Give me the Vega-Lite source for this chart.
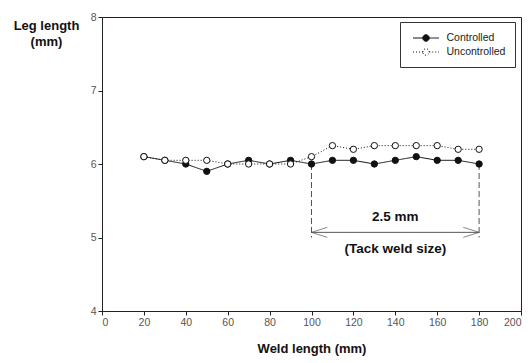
{
  "$schema": "https://vega.github.io/schema/vega-lite/v6.json",
  "width": 419,
  "height": 294,
  "autosize": "none",
  "padding": {"left": 102, "top": 17, "right": 7, "bottom": 52},
  "background": "white",
  "config": {
    "font": "Liberation Sans",
    "view": {"stroke": "#222", "strokeWidth": 1},
    "axis": {"grid": false, "domainColor": "#222", "tickColor": "#222", "labelColor": "#555", "labelFontSize": 10.5, "labelFont": "Liberation Sans", "titleFont": "Liberation Sans", "titleFontSize": 13, "titleFontWeight": "bold", "titleColor": "#111", "tickSize": 4}
  },
  "datasets": {
    "series": [
      {"weld": 20, "leg": 6.1, "series": "Controlled"},
      {"weld": 30, "leg": 6.05, "series": "Controlled"},
      {"weld": 40, "leg": 6.0, "series": "Controlled"},
      {"weld": 50, "leg": 5.9, "series": "Controlled"},
      {"weld": 60, "leg": 6.0, "series": "Controlled"},
      {"weld": 70, "leg": 6.05, "series": "Controlled"},
      {"weld": 80, "leg": 6.0, "series": "Controlled"},
      {"weld": 90, "leg": 6.05, "series": "Controlled"},
      {"weld": 100, "leg": 6.0, "series": "Controlled"},
      {"weld": 110, "leg": 6.05, "series": "Controlled"},
      {"weld": 120, "leg": 6.05, "series": "Controlled"},
      {"weld": 130, "leg": 6.0, "series": "Controlled"},
      {"weld": 140, "leg": 6.05, "series": "Controlled"},
      {"weld": 150, "leg": 6.1, "series": "Controlled"},
      {"weld": 160, "leg": 6.05, "series": "Controlled"},
      {"weld": 170, "leg": 6.05, "series": "Controlled"},
      {"weld": 180, "leg": 6.0, "series": "Controlled"},
      {"weld": 20, "leg": 6.1, "series": "Uncontrolled"},
      {"weld": 30, "leg": 6.05, "series": "Uncontrolled"},
      {"weld": 40, "leg": 6.05, "series": "Uncontrolled"},
      {"weld": 50, "leg": 6.05, "series": "Uncontrolled"},
      {"weld": 60, "leg": 6.0, "series": "Uncontrolled"},
      {"weld": 70, "leg": 6.0, "series": "Uncontrolled"},
      {"weld": 80, "leg": 6.0, "series": "Uncontrolled"},
      {"weld": 90, "leg": 6.0, "series": "Uncontrolled"},
      {"weld": 100, "leg": 6.1, "series": "Uncontrolled"},
      {"weld": 110, "leg": 6.25, "series": "Uncontrolled"},
      {"weld": 120, "leg": 6.2, "series": "Uncontrolled"},
      {"weld": 130, "leg": 6.25, "series": "Uncontrolled"},
      {"weld": 140, "leg": 6.25, "series": "Uncontrolled"},
      {"weld": 150, "leg": 6.25, "series": "Uncontrolled"},
      {"weld": 160, "leg": 6.25, "series": "Uncontrolled"},
      {"weld": 170, "leg": 6.2, "series": "Uncontrolled"},
      {"weld": 180, "leg": 6.2, "series": "Uncontrolled"}
    ],
    "dims": [
      {"weld": 100, "top": 6.0, "bottom": 5.0},
      {"weld": 180, "top": 6.0, "bottom": 5.0}
    ],
    "arrow": [{"start": 100, "end": 180, "leg": 5.07}],
    "heads": [
      {"weld": 100, "leg": 5.07, "side": "left"},
      {"weld": 180, "leg": 5.07, "side": "right"}
    ],
    "labels": [
      {"weld": 140, "leg": 5.28, "text": "2.5 mm"},
      {"weld": 140, "leg": 4.84, "text": "(Tack weld size)"}
    ]
  },
  "layer": [
    {
      "data": {"name": "dims"},
      "mark": {"type": "rule", "color": "#555", "strokeDash": [6, 3], "strokeWidth": 1},
      "encoding": {
        "x": {"field": "weld", "type": "quantitative", "scale": {"domain": [0, 200]}},
        "y": {"field": "top", "type": "quantitative", "scale": {"domain": [4, 8]}},
        "y2": {"field": "bottom"}
      }
    },
    {
      "data": {"name": "arrow"},
      "mark": {"type": "rule", "color": "#555", "strokeWidth": 1},
      "encoding": {
        "x": {"field": "start", "type": "quantitative"},
        "x2": {"field": "end"},
        "y": {"field": "leg", "type": "quantitative"}
      }
    },
    {
      "data": {"name": "heads"},
      "transform": [{"filter": "datum.side == 'left'"}],
      "mark": {"type": "point", "shape": "M0,0 L1,-0.32 M0,0 L1,0.32", "size": 1000, "stroke": "#555", "strokeWidth": 1, "filled": false},
      "encoding": {
        "x": {"field": "weld", "type": "quantitative"},
        "y": {"field": "leg", "type": "quantitative"}
      }
    },
    {
      "data": {"name": "heads"},
      "transform": [{"filter": "datum.side == 'right'"}],
      "mark": {"type": "point", "shape": "M0,0 L-1,-0.32 M0,0 L-1,0.32", "size": 1000, "stroke": "#555", "strokeWidth": 1, "filled": false},
      "encoding": {
        "x": {"field": "weld", "type": "quantitative"},
        "y": {"field": "leg", "type": "quantitative"}
      }
    },
    {
      "data": {"name": "labels"},
      "mark": {"type": "text", "font": "Liberation Sans", "fontSize": 13.5, "fontWeight": "bold", "color": "#111"},
      "encoding": {
        "x": {"field": "weld", "type": "quantitative"},
        "y": {"field": "leg", "type": "quantitative"},
        "text": {"field": "text"}
      }
    },
    {
      "data": {"name": "series"},
      "mark": {"type": "line", "strokeWidth": 1, "stroke": "#111"},
      "encoding": {
        "x": {"field": "weld", "type": "quantitative", "scale": {"domain": [0, 200]},
          "axis": {"values": [0, 20, 40, 60, 80, 100, 120, 140, 160, 180, 200], "title": "Weld length (mm)", "titlePadding": 15}},
        "y": {"field": "leg", "type": "quantitative", "scale": {"domain": [4, 8]},
          "axis": {"values": [4, 5, 6, 7, 8], "format": "d", "title": ["Leg length", "(mm)"], "titleAngle": 0, "titleAlign": "center", "titleBaseline": "top", "titleX": -56, "titleY": 2, "titleLineHeight": 16}},
        "strokeDash": {"field": "series", "type": "nominal", "scale": {"domain": ["Controlled", "Uncontrolled"], "range": [[1, 0], [1, 2]]},
          "legend": {"title": null, "orient": "none", "legendX": 298, "legendY": 5, "strokeColor": "#333", "padding": 9, "fillColor": "white",
            "symbolType": "M-2,0 L-0.5,0 M0.5,0 L2,0 M-0.5,0 A0.5,0.5 0 1,1 0.5,0 A0.5,0.5 0 1,1 -0.5,0",
            "symbolSize": 169, "symbolStrokeColor": "#111", "symbolStrokeWidth": 1, "symbolOffset": 10, "labelOffset": 13.5,
            "labelFontSize": 10.5, "labelColor": "#222", "labelFont": "Liberation Sans", "rowPadding": 1}},
        "detail": {"field": "series"}
      }
    },
    {
      "data": {"name": "series"},
      "mark": {"type": "point", "size": 40, "stroke": "#111", "strokeWidth": 1, "opacity": 1},
      "encoding": {
        "x": {"field": "weld", "type": "quantitative"},
        "y": {"field": "leg", "type": "quantitative"},
        "fill": {"field": "series", "type": "nominal", "scale": {"domain": ["Controlled", "Uncontrolled"], "range": ["#111", "white"]}, "legend": null}
      }
    }
  ]
}
